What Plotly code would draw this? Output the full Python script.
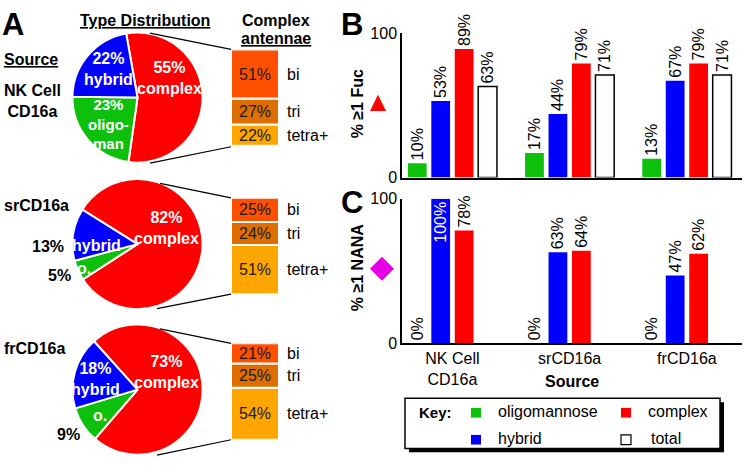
import plotly.graph_objects as go

W, H = 745, 468

# ---------------- data ----------------
sources = ["NK Cell<br>CD16a", "srCD16a", "frCD16a"]
type_labels = ["complex", "oligomannose", "hybrid"]
type_nk = [55, 23, 22]
type_sr = [82, 5, 13]
type_fr = [73, 9, 18]
antennae_labels = ["tetra+", "tri", "bi"]
ant_nk = [22, 27, 51]
ant_sr = [51, 24, 25]
ant_fr = [54, 25, 21]
fuc_oligo = [10, 17, 13]
fuc_hybrid = [53, 44, 67]
fuc_complex = [89, 79, 79]
fuc_total = [63, 71, 71]
nana_oligo = [0, 0, 0]
nana_hybrid = [100, 63, 47]
nana_complex = [78, 64, 62]

# ---------------- styles ----------------
FONT = "Liberation Sans, Arial, sans-serif"
RED = "#FF0000"
GREEN = "#0CC00C"
BLUE = "#0000FF"
ANT_COLORS = ["#FFA500", "#DF6E00", "#FF5000"]  # tetra+, tri, bi
TYPE_COLORS = [RED, GREEN, BLUE]


def px(x):
    return x / W


def py(y):
    return 1 - y / H


fig = go.Figure()

# ---------------- pies ----------------
pie_specs = [(type_nk, 93, -10), (type_sr, 245, -58), (type_fr, 396, -42)]
CX, R = 137.5, 67.5
for vals, cy, rot in pie_specs:
    fig.add_trace(go.Pie(
        values=vals, labels=type_labels, sort=False, direction="clockwise",
        rotation=rot, textinfo="none", hoverinfo="skip",
        marker=dict(colors=TYPE_COLORS, line=dict(color="white", width=2)),
        domain=dict(x=[px(CX - R), px(CX + R)], y=[py(cy + R), py(cy - R)]),
        showlegend=False,
    ))

# ---------------- antennae stacks ----------------
ant_specs = [(ant_nk, 43, 3), (ant_sr, 197, 4), (ant_fr, 348, 5)]
annotations = []
for vals, top, k in ant_specs:
    base = [0, vals[0], vals[0] + vals[1]]
    fig.add_trace(go.Bar(
        x=[0, 0, 0], y=vals, base=base, width=1,
        marker=dict(color=ANT_COLORS, line=dict(color="white", width=2)),
        text=[f"{v}%" for v in vals], textposition="inside",
        insidetextanchor="middle", textangle=0,
        textfont=dict(size=16, color="#1a1a1a", family=FONT),
        xaxis=f"x{k}", yaxis=f"y{k}", hoverinfo="skip", showlegend=False,
    ))
    fig.update_layout(**{
        f"xaxis{k}": dict(domain=[px(231), px(279)], range=[-0.5, 0.5],
                          visible=False, anchor=f"y{k}"),
        f"yaxis{k}": dict(domain=[py(top + 100), py(top)], range=[0, 100],
                          visible=False, anchor=f"x{k}"),
    })
    for b, v, lab in zip(base, vals, antennae_labels):
        annotations.append(dict(
            x=px(285), xref="paper", y=b + v / 2, yref=f"y{k}",
            text=lab, showarrow=False, xanchor="left", yanchor="middle",
            font=dict(size=16, color="black", family=FONT)))

# ---------------- bar charts B and C ----------------
SLOTS = [-0.3, -0.1, 0.1, 0.3]
BW = 0.16


def add_bars(vals, color, slot, xa, ya, line=None, tpos="outside",
             incolor="white"):
    fig.add_trace(go.Bar(
        x=sources, y=vals, width=BW, offset=SLOTS[slot] - BW / 2,
        marker=dict(color=color, line=line or dict(width=0)),
        text=[f"{v}%" for v in vals], textposition=tpos, textangle=-90,
        insidetextanchor="end",
        outsidetextfont=dict(size=16, color="black", family=FONT),
        insidetextfont=dict(size=16, color=incolor, family=FONT),
        cliponaxis=False, xaxis=xa, yaxis=ya, hoverinfo="skip",
        showlegend=False,
    ))


add_bars(fuc_oligo, GREEN, 0, "x", "y")
add_bars(fuc_hybrid, BLUE, 1, "x", "y")
add_bars(fuc_complex, RED, 2, "x", "y")
add_bars(fuc_total, "white", 3, "x", "y", line=dict(color="black", width=1.5))

add_bars(nana_oligo, GREEN, 0, "x2", "y2")
add_bars(nana_hybrid, BLUE, 1, "x2", "y2",
         tpos=["inside" if v >= 100 else "outside" for v in nana_hybrid])
add_bars(nana_complex, RED, 2, "x2", "y2")

axis_common = dict(showline=True, linecolor="black", linewidth=1.5,
                   ticks="", showgrid=False, zeroline=False,
                   tickfont=dict(size=16, color="black", family=FONT))
fig.update_layout(
    xaxis=dict(domain=[px(402), px(742)], anchor="y", type="category",
               range=[-0.43, 2.47], showticklabels=False, **axis_common),
    yaxis=dict(domain=[py(176), py(26)], anchor="x", range=[0, 100],
               tickvals=[0, 100], **axis_common),
    xaxis2=dict(domain=[px(402), px(742)], anchor="y2", type="category",
                range=[-0.43, 2.47], **axis_common),
    yaxis2=dict(domain=[py(348), py(198)], anchor="x2", range=[0, 100],
                tickvals=[0, 100], **axis_common),
)


# ---------------- text annotations ----------------
def ann(x, y, text, size=16, bold=False, color="black", xanchor="center",
        angle=0):
    t = f"<b>{text}</b>" if bold else text
    annotations.append(dict(
        x=px(x), y=py(y), xref="paper", yref="paper", text=t,
        showarrow=False, xanchor=xanchor, yanchor="middle", textangle=angle,
        font=dict(size=size, color=color, family=FONT)))


# panel letters
ann(13, 17, "A", size=31, bold=True)
ann(352, 17, "B", size=31, bold=True)
ann(352, 202, "C", size=31, bold=True)

# headings
ann(145, 13, "<u>Type Distribution</u>", bold=True)
ann(276, 13, "Complex", bold=True)
ann(276, 32, "<u>antennae</u>", bold=True)
ann(2, 53, "<u>Source</u>", bold=True, xanchor="left")
ann(2, 97, "NK Cell<br>CD16a", bold=True, xanchor="left")
ann(2, 205, "srCD16a", bold=True, xanchor="left")
ann(2, 353, "frCD16a", bold=True, xanchor="left")

# pie 1 labels
ann(108, 63, "22%<br>hybrid", bold=True, color="white")
ann(169, 73, "55%<br>complex", bold=True, color="white")
ann(108, 120, "23%<br>oligo-<br>man", size=15, bold=True, color="white")
# pie 2 labels
ann(166, 228, "82%<br>complex", bold=True, color="white")
ann(96, 246, "hybrid", bold=True, color="white")
ann(48, 247, "13%", bold=True)
ann(84, 270, "o.", bold=True, color="white")
ann(60, 278, "5%", bold=True)
# pie 3 labels
ann(95, 385, "18%<br>hybrid", bold=True, color="white")
ann(166, 378, "73%<br>complex", bold=True, color="white")
ann(100, 423, "o.", bold=True, color="white")
ann(68, 443, "9%", bold=True)

# axis titles
ann(357, 100, "% ≥1 Fuc", bold=True, angle=-90)
ann(357, 270, "% ≥1 NANA", bold=True, angle=-90)
ann(572, 388, "Source", bold=True)

# key
ann(417, 420, "Key:", size=15, bold=True, xanchor="left")
ann(496, 419, "oligomannose", xanchor="left")
ann(646, 419, "complex", xanchor="left")
ann(496, 447, "hybrid", xanchor="left")
ann(649, 447, "total", xanchor="left")

# ---------------- shapes ----------------
shapes = []


def line(x0, y0, x1, y1, w=1.2):
    shapes.append(dict(type="line", xref="paper", yref="paper",
                       x0=px(x0), y0=py(y0), x1=px(x1), y1=py(y1),
                       line=dict(color="black", width=w)))


def rect(x0, y0, x1, y1, fill, lc="black", lw=1.5):
    shapes.append(dict(type="rect", xref="paper", yref="paper",
                       x0=px(x0), y0=py(y0), x1=px(x1), y1=py(y1),
                       fillcolor=fill, line=dict(color=lc, width=lw)))


def poly(pts, fill):
    path = "M " + " L ".join(f"{px(x)},{py(y)}" for x, y in pts) + " Z"
    shapes.append(dict(type="path", xref="paper", yref="paper", path=path,
                       fillcolor=fill, line=dict(width=0)))


# connectors pie -> antennae boxes
line(150, 26, 231, 43)
line(150, 161, 231, 144)
line(160, 182, 231, 197)
line(157, 312, 231, 297)
line(160, 333, 231, 348)
line(157, 464, 231, 448)

# symbols
poly([(370, 107), (386, 107), (378, 90)], RED)
poly([(382, 258), (394, 270.5), (382, 283), (370, 270.5)], "#E600E6")

# key box with shadow
rect(409, 409, 724, 461, "black", lc="black", lw=0)
rect(405, 405, 720, 457, "white", lc="black", lw=1.5)
rect(471, 415, 481, 425, GREEN, lc=GREEN, lw=0)
rect(621, 415, 631, 425, RED, lc=RED, lw=0)
rect(471, 443, 481, 453, BLUE, lc=BLUE, lw=0)
rect(621, 443, 631, 453, "white", lc="black", lw=1.2)

fig.update_layout(
    width=W, height=H, margin=dict(l=0, r=0, t=0, b=0),
    paper_bgcolor="white", plot_bgcolor="white",
    barmode="overlay", showlegend=False,
    uniformtext=dict(minsize=16, mode="show"),
    font=dict(family=FONT, size=16, color="black"),
    annotations=annotations, shapes=shapes,
)

fig.write_html(
    "out.html",
    config={"displayModeBar": False},
    post_script="document.body.style.margin='0px';"
                "document.body.style.overflow='hidden';",
)
